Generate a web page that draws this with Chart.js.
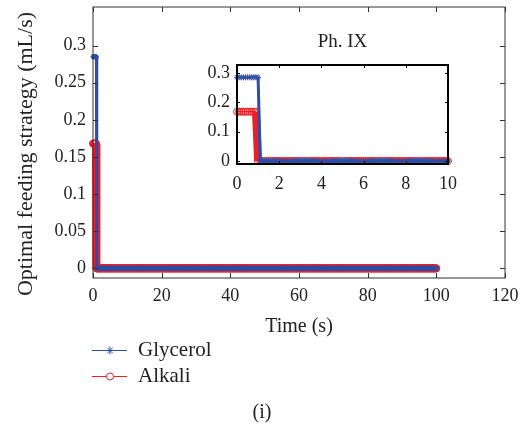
<!DOCTYPE html>
<html>
<head>
<meta charset="utf-8">
<script src="https://cdn.jsdelivr.net/npm/chart.js@4.4.0/dist/chart.umd.min.js"></script>
<style>
  body { margin: 0; background: #fff; width: 521px; height: 427px; position: relative; overflow: hidden; }
  canvas { position: absolute; }
  #main { left: 0; top: 0; }
  #inset { left: 200px; top: 30px; }
</style>
</head>
<body>
<canvas id="main" width="521" height="427"></canvas>
<canvas id="inset" width="260" height="170"></canvas>
<script>
// values
const seriesNames = ['Glycerol', 'Alkali'];
const seriesColors = ['#2b4ea8', '#ec1f27'];
const startRates = [0.285, 0.168];   // mL/s, before the switch
const switchTimes = [1.0, 0.95];     // s
const endRates = [0, 0];
const endTime = 100;
const sampleStep = 0.1;

const mainXTicks = [0, 20, 40, 60, 80, 100, 120];
const mainYTicks = [0, 0.05, 0.1, 0.15, 0.2, 0.25, 0.3];
const insetXTicks = [0, 2, 4, 6, 8, 10];
const insetYTicks = [0, 0.1, 0.2, 0.3];

const FONT = 'Liberation Serif';
const TXT = '#222';

// sample times of the solver output
var times = [];
for (let i = 0; i <= Math.round(endTime / sampleStep); i++) {
  times.push(+(i * sampleStep).toFixed(2));
}

function seriesPoints(k, tMax) {
  return times.filter(t => t <= tMax).map(t => ({
    x: t,
    y: t <= switchTimes[k] ? startRates[k] : endRates[k]
  }));
}

// the drop at the switch is drawn as a wide band, like the marker pile-up in the original
function dropWidth(w) {
  return c => (c.p0.parsed.y !== c.p1.parsed.y ? w : undefined);
}

function makeDatasets(tMax, starR, circR) {
  return [{
    label: seriesNames[0],
    data: seriesPoints(0, tMax),
    borderColor: seriesColors[0],
    borderWidth: 1,
    segment: { borderWidth: dropWidth(3) },
    pointStyle: 'star',
    pointRadius: starR,
    pointBorderColor: seriesColors[0],
    pointBorderWidth: 1,
    order: 1,
    clip: false
  }, {
    label: seriesNames[1],
    data: seriesPoints(1, tMax),
    borderColor: seriesColors[1],
    borderWidth: 1.5,
    segment: { borderWidth: dropWidth(8) },
    pointStyle: 'circle',
    pointRadius: circR,
    pointBackgroundColor: 'rgba(0,0,0,0)',
    pointBorderColor: seriesColors[1],
    pointBorderWidth: 1,
    order: 2,
    clip: false
  }];
}

// inward ticks on all four sides plus the box
function boxPlugin(len, frameW, frameColor) {
  return {
    id: 'boxTicks',
    afterDatasetsDraw(chart) {
      const ctx = chart.ctx, a = chart.chartArea;
      const x = chart.scales.x, y = chart.scales.y;
      ctx.save();
      ctx.strokeStyle = frameColor;
      ctx.lineWidth = 1;
      ctx.beginPath();
      x.ticks.forEach(t => {
        const px = Math.round(x.getPixelForValue(t.value)) + 0.5;
        ctx.moveTo(px, a.bottom); ctx.lineTo(px, a.bottom - len);
        ctx.moveTo(px, a.top); ctx.lineTo(px, a.top + len);
      });
      y.ticks.forEach(t => {
        const py = Math.round(y.getPixelForValue(t.value)) + 0.5;
        ctx.moveTo(a.left, py); ctx.lineTo(a.left + len, py);
        ctx.moveTo(a.right, py); ctx.lineTo(a.right - len, py);
      });
      ctx.stroke();
      ctx.lineWidth = frameW;
      ctx.strokeRect(a.left, a.top, a.right - a.left, a.bottom - a.top);
      ctx.restore();
    }
  };
}

function drawStar(ctx, x, y, r) {
  ctx.beginPath();
  ctx.moveTo(x - r, y); ctx.lineTo(x + r, y);
  ctx.moveTo(x, y - r); ctx.lineTo(x, y + r);
  const d = r * 0.707;
  ctx.moveTo(x - d, y - d); ctx.lineTo(x + d, y + d);
  ctx.moveTo(x - d, y + d); ctx.lineTo(x + d, y - d);
  ctx.stroke();
}

// y title, legend under the axis title and the panel caption
const legendPlugin = {
  id: 'sideLegend',
  afterDraw(chart) {
    const ctx = chart.ctx;
    ctx.save();
    ctx.fillStyle = TXT;
    ctx.font = '22px "' + FONT + '"';
    ctx.textAlign = 'center';
    ctx.textBaseline = 'middle';
    ctx.translate(26, 154);
    ctx.rotate(-Math.PI / 2);
    ctx.fillText('Optimal feeding strategy (mL/s)', 0, 0);
    ctx.restore();

    ctx.save();
    const rows = [350, 376];
    seriesNames.forEach((name, k) => {
      const yy = rows[k] + 0.5;
      ctx.strokeStyle = seriesColors[k];
      ctx.lineWidth = 1;
      ctx.beginPath();
      ctx.moveTo(92, yy); ctx.lineTo(127, yy);
      ctx.stroke();
      if (k === 0) {
        drawStar(ctx, 110, yy, 4);
      } else {
        ctx.fillStyle = '#fff';
        ctx.beginPath();
        ctx.arc(110, yy, 3.5, 0, Math.PI * 2);
        ctx.fill();
        ctx.stroke();
      }
      ctx.fillStyle = TXT;
      ctx.font = '21px "' + FONT + '"';
      ctx.textBaseline = 'middle';
      ctx.textAlign = 'left';
      ctx.fillText(name, 138, yy);
    });
    ctx.font = '20px "' + FONT + '"';
    ctx.textAlign = 'center';
    ctx.fillText('(i)', 262, 413);
    ctx.restore();
  }
};

new Chart(document.getElementById('main'), {
  type: 'line',
  data: { datasets: makeDatasets(endTime, 2.5, 3.5) },
  options: {
    responsive: false,
    animation: false,
    layout: { padding: { left: 9, top: 7, right: 16, bottom: 84 } },
    plugins: { legend: { display: false }, tooltip: { enabled: false } },
    scales: {
      x: {
        type: 'linear',
        min: 0, max: 120,
        grid: { display: false, drawTicks: false },
        border: { display: false },
        afterBuildTicks: s => { s.ticks = mainXTicks.map(v => ({ value: v })); },
        afterFit: s => { s.height = 65; s.paddingLeft = 0; s.paddingRight = 0; },
        ticks: { padding: 7, color: TXT, font: { family: FONT, size: 18 }, maxRotation: 0, callback: v => String(v) },
        title: { display: true, text: 'Time (s)', color: TXT, font: { family: FONT, size: 20 }, padding: { top: 4, bottom: 4 } }
      },
      y: {
        type: 'linear',
        min: -0.013, max: 0.352,
        grid: { display: false, drawTicks: false },
        border: { display: false },
        afterBuildTicks: s => { s.ticks = mainYTicks.map(v => ({ value: v })); },
        afterFit: s => { s.width = 84; s.paddingTop = 0; s.paddingBottom = 0; },
        ticks: { padding: 7, color: TXT, font: { family: FONT, size: 18 }, callback: v => String(v) }
      }
    }
  },
  plugins: [boxPlugin(5, 1, '#333'), legendPlugin]
});

new Chart(document.getElementById('inset'), {
  type: 'line',
  data: { datasets: makeDatasets(10, 3, 3.5) },
  options: {
    responsive: false,
    animation: false,
    layout: { padding: { left: 0, top: 0, right: 12, bottom: 0 } },
    plugins: {
      legend: { display: false },
      tooltip: { enabled: false },
      title: {
        display: true, text: 'Ph. IX', fullSize: false, color: TXT,
        font: { family: FONT, size: 19, weight: 'normal' },
        padding: { top: 1, bottom: 11.2 }
      }
    },
    scales: {
      x: {
        type: 'linear',
        min: 0, max: 10,
        grid: { display: false, drawTicks: false },
        border: { display: false },
        afterBuildTicks: s => { s.ticks = insetXTicks.map(v => ({ value: v })); },
        afterFit: s => { s.height = 36; s.paddingLeft = 0; s.paddingRight = 0; },
        ticks: { padding: 9, color: TXT, font: { family: FONT, size: 18 }, maxRotation: 0, callback: v => String(v) }
      },
      y: {
        type: 'linear',
        min: -0.0102, max: 0.327,
        grid: { display: false, drawTicks: false },
        border: { display: false },
        afterBuildTicks: s => { s.ticks = insetYTicks.map(v => ({ value: v })); },
        afterFit: s => { s.width = 37; s.paddingTop = 0; s.paddingBottom = 0; },
        ticks: { padding: 7, color: TXT, font: { family: FONT, size: 18 }, callback: v => String(v) }
      }
    }
  },
  plugins: [boxPlugin(3, 2, '#000')]
});
</script>
</body>
</html>
